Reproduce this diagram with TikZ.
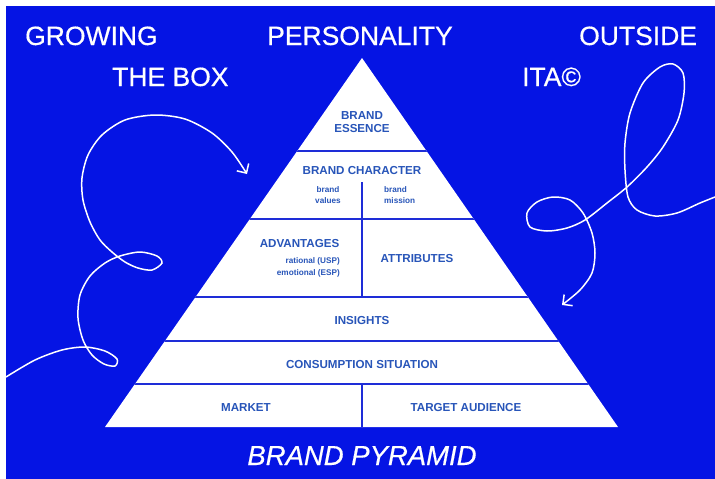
\documentclass[tikz,border=0pt]{standalone}
\usepackage{fontspec}
\setmainfont{Liberation Sans}
\newfontfamily\titlefont[FakeBold=0.5]{Liberation Sans}
\usetikzlibrary{arrows.meta}
\definecolor{bgblue}{RGB}{5,20,228}
\definecolor{txtblue}{RGB}{40,85,185}
\definecolor{lineblue}{RGB}{30,45,215}
\tikzset{
  bigtitle/.style={text=white, font=\titlefont\fontsize{26.5}{30}\selectfont, inner sep=0pt, anchor=base west},
  lbl/.style={text=txtblue, font=\bfseries\fontsize{11.6}{14}\selectfont, inner sep=0pt, anchor=base},
  sublbl/.style={text=txtblue, font=\bfseries\fontsize{8.2}{10}\selectfont, inner sep=0pt},
  divider/.style={draw=lineblue, line width=2pt},
  squiggle/.style={draw=white, line width=1.5pt, -{Straight Barb[length=7pt,width=14pt]}}
}
\begin{document}
\begin{tikzpicture}[x=1pt,y=-1pt]
\useasboundingbox (0,0) rectangle (715,479);
\fill[white] (0,0) rectangle (715,479);
\fill[bgblue] (6,6) rectangle (715,479);
% titles
\node[bigtitle] (growing) at (25,45) {GROWING};
\node[bigtitle] (thebox) at (112,86) {THE BOX};
\node[bigtitle] (personality) at (267,45) {PERSONALITY};
\node[bigtitle] (outside) at (579,45) {OUTSIDE};
\node[bigtitle] (ita) at (522,86) {ITA©};
\node[bigtitle, anchor=base, font=\titlefont\itshape\fontsize{27.5}{30}\selectfont] (title) at (362,465) {BRAND PYRAMID};
% pyramid
\fill[white] (362,58) -- (105,427) -- (618,427) -- cycle;
\begin{scope}
\clip (362,58) -- (105,427) -- (618,427) -- cycle;
\draw[divider] (0,151) -- (715,151);
\draw[divider] (0,219) -- (715,219);
\draw[divider] (0,297) -- (715,297);
\draw[divider] (0,341) -- (715,341);
\draw[divider] (0,384) -- (715,384);
\draw[divider] (362,182) -- (362,219);
\draw[divider] (362,219) -- (362,297);
\draw[divider] (362,384) -- (362,427);
\end{scope}
% labels
\node[lbl] (brand1) at (362,119) {BRAND};
\node[lbl] (essence) at (362,132.5) {ESSENCE};
\node[lbl] (character) at (362,174) {BRAND CHARACTER};
\node[sublbl, anchor=base] (brandv) at (328,192) {brand};
\node[sublbl, anchor=base] (values) at (328,203.5) {values};
\node[sublbl, anchor=base west] (brandm) at (384,192) {brand};
\node[sublbl, anchor=base west] (mission) at (384,203.5) {mission};
\node[lbl, anchor=base east] (advantages) at (339.5,247) {ADVANTAGES};
\node[sublbl, anchor=base east] (rational) at (340,263.5) {rational (USP)};
\node[sublbl, anchor=base east] (emotional) at (340,275.5) {emotional (ESP)};
\node[lbl] (attributes) at (417,262) {ATTRIBUTES};
\node[lbl] (insights) at (362,324.5) {INSIGHTS};
\node[lbl] (consumption) at (362,368) {CONSUMPTION SITUATION};
\node[lbl] (market) at (246,411) {MARKET};
\node[lbl] (target) at (466,411) {TARGET AUDIENCE};
% squiggles
\draw[squiggle] plot[smooth] coordinates {(6,377) (35,360) (62,350) (85,347) (105,351) (117,359) (115,366) (104,364) (92,355) (83,340) (78,318) (80,295) (90,276) (105,263) (120,256) (140,252) (157,256) (162,263) (152,270) (138,268) (125,262) (112,252) (100,240) (90,222) (83,200) (82,178) (88,155) (102,135) (125,120) (155,115) (185,119) (212,133) (232,152) (247,174)};
\draw[squiggle] plot[smooth] coordinates {(715,197) (700,203) (677,213) (655,216) (637,210) (628,197) (625,170) (625,143) (630,113) (643,83) (660,67) (673,64) (683,73) (684,93) (678,120) (663,147) (647,167) (627,187) (607,203) (585,220) (567,228) (547,231) (530,227) (527,213) (537,202) (553,197) (570,200) (583,213) (592,233) (595,253) (592,273) (580,290) (562,305)};
\end{tikzpicture}
\end{document}
